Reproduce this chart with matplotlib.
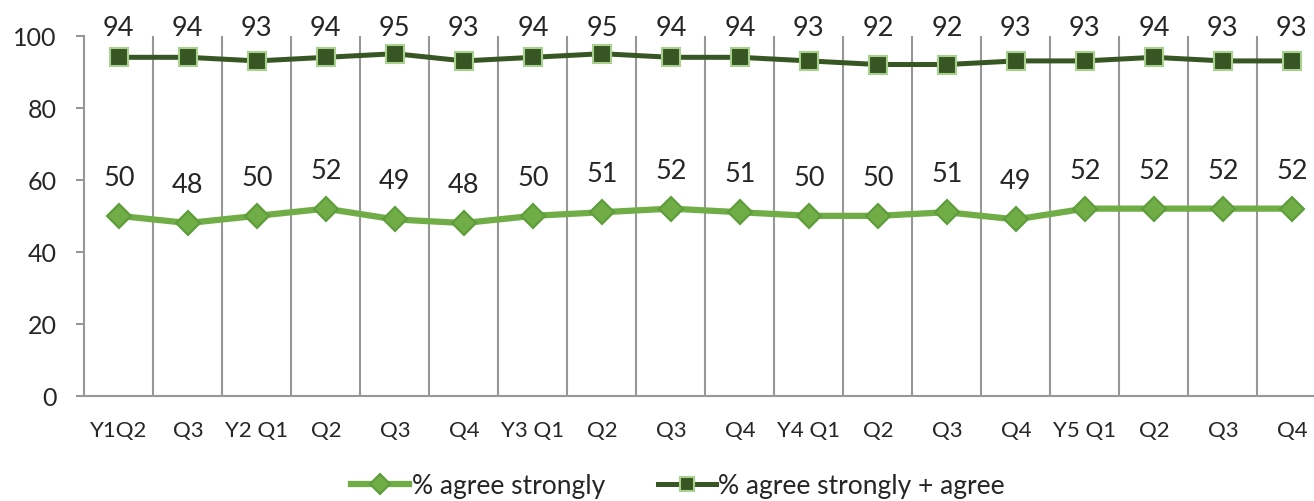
import matplotlib.pyplot as plt
from matplotlib.lines import Line2D

plt.rcParams['font.family'] = ['Lato', 'DejaVu Sans']

quarters = ['Y1Q2', 'Q3', 'Y2 Q1', 'Q2', 'Q3', 'Q4', 'Y3 Q1', 'Q2', 'Q3',
            'Q4', 'Y4 Q1', 'Q2', 'Q3', 'Q4', 'Y5 Q1', 'Q2', 'Q3', 'Q4']
agree_strongly = [50, 48, 50, 52, 49, 48, 50, 51, 52, 51, 50, 50, 51, 49, 52, 52, 52, 52]
agree_total = [94, 94, 93, 94, 95, 93, 94, 95, 94, 94, 93, 92, 92, 93, 93, 94, 93, 93]

light_green = '#70AD47'
light_edge = '#5E9B3A'
dark_green = '#375623'
dark_edge = '#A9D18E'
grid_grey = '#979797'
text_col = '#262626'

fig = plt.figure(figsize=(13.14, 5.02), dpi=100)
ax = fig.add_axes([0.0642, 0.2092, 0.9358, 0.7177])

x = list(range(len(quarters)))
ax.plot(x, agree_strongly, color=light_green, lw=4.5, marker='D', ms=12,
        mfc=light_green, mec=light_edge, mew=1.5, zorder=3)
ax.plot(x, agree_total, color=dark_green, lw=3.6, marker='s', ms=12.5,
        mfc=dark_green, mec=dark_edge, mew=1.5, zorder=3)

for xi, v in zip(x, agree_strongly):
    ax.annotate(str(v), (xi, v), xytext=(0, 27.7), textcoords='offset points',
                ha='center', va='center', fontsize=19.5, color=text_col)
# top labels sit on one line just above the plot area
for xi, v in zip(x, agree_total):
    ax.annotate(str(v), (xi, v), xytext=(xi, 102.3), textcoords='data',
                ha='center', va='center', fontsize=19.5, color=text_col)

ax.set_xlim(-0.5, 17.32)
ax.set_ylim(0, 100)
ax.set_yticks(range(0, 101, 20))
ax.set_xticks(x)
ax.set_xticklabels(quarters)

# category boundaries drawn as vertical grid lines
for b in range(1, len(quarters)):
    ax.axvline(b - 0.5, color=grid_grey, lw=1.5, zorder=1)

for side in ['top', 'right']:
    ax.spines[side].set_visible(False)
for side in ['left', 'bottom']:
    ax.spines[side].set_color(grid_grey)
    ax.spines[side].set_linewidth(1.5)

ax.tick_params(axis='y', length=6, width=1.5, color=grid_grey, pad=14,
               labelsize=18, labelcolor=text_col)
ax.tick_params(axis='x', length=0, pad=17, labelsize=16, labelcolor=text_col)

handles = [
    Line2D([], [], color=light_green, lw=4.5, marker='D', ms=10,
           mfc=light_green, mec=light_edge, mew=1.5),
    Line2D([], [], color=dark_green, lw=3.6, marker='s', ms=10,
           mfc=dark_green, mec=dark_edge, mew=1.5),
]
fig.legend(handles, ['% agree strongly', '% agree strongly + agree'],
           loc='center', bbox_to_anchor=(0.516, 0.03), ncol=2, frameon=False,
           fontsize=19, handlelength=2.2, handletextpad=0.1, columnspacing=2.0,
           labelcolor=text_col)

fig.savefig('out.png', dpi=100)
